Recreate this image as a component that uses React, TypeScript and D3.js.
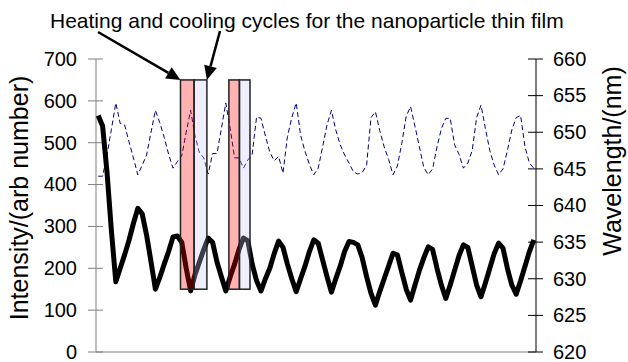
import React from 'react';
import * as d3 from 'd3';

// intensity (left axis), one reading per sample
const intensity = [
  565, 540, 430, 290, 168, 200, 232, 267, 307, 343,
  330, 279, 216, 150, 178, 210, 240, 275, 277, 262,
  200, 146, 185, 215, 245, 272, 262, 215, 180, 146,
  180, 210, 245, 272, 266, 210, 170, 146, 175, 200,
  235, 265, 250, 210, 175, 144, 175, 205, 240, 268,
  260, 220, 180, 143, 175, 205, 240, 264, 262, 256,
  225, 180, 140, 112, 145, 175, 205, 236, 232, 190,
  150, 124, 160, 195, 225, 251, 245, 200, 160, 128,
  160, 195, 230, 256, 250, 205, 160, 132, 165, 200,
  235, 260, 248, 200, 160, 138, 170, 205, 240, 268
];

// wavelength (right axis), same samples
const wavelength = [
  644.0, 644.0, 646.9, 650.4, 654.0, 651.2, 651.0, 648.7, 646.5, 644.2,
  645.5, 646.9, 650.0, 653.0, 651.3, 649.3, 647.0, 645.1, 646.0, 646.8,
  650.0, 653.0, 649.5, 647.2, 646.5, 644.3, 647.1, 647.1, 650.5, 654.0,
  650.5, 646.5, 646.5, 645.1, 646.2, 647.0, 652.1, 651.9, 649.5, 647.3,
  646.1, 646.7, 644.4, 649.4, 652.0, 654.0, 649.6, 647.4, 645.6, 644.2,
  645.1, 648.0, 651.0, 653.0, 650.3, 648.3, 646.9, 645.8, 644.6, 644.3,
  644.5, 645.5, 652.0, 652.8, 650.2, 648.0, 646.3, 644.2, 645.4, 648.5,
  652.2, 653.5, 650.8, 648.0, 645.2, 644.2, 645.0, 648.0, 650.5, 651.9,
  651.9, 648.3, 647.0, 645.1, 645.8, 647.5, 652.0, 653.7, 650.5, 647.5,
  645.5, 644.2, 645.0, 647.5, 650.3, 652.0, 652.3, 648.0, 645.8, 645.1
];

const leftTicks = [0, 100, 200, 300, 400, 500, 600, 700];
const rightTicks = [620, 625, 630, 635, 640, 645, 650, 655, 660];

// heating / cooling windows, in sample index, and intensity span
const heating = [[19.2, 22.3], [30.2, 32.6]];
const cooling = [[22.3, 25.2], [32.6, 35.0]];
const boxSpan = [150, 650];

const title = 'Heating and cooling cycles for the nanoparticle thin film';

const W = 628;
const H = 362;
const plot = { left: 96, right: 536, top: 59, bottom: 352 };
const font = 'Arial, "Liberation Sans", sans-serif';

function Arrow({ x1, y1, x2, y2 }: { x1: number; y1: number; x2: number; y2: number }) {
  const ang = Math.atan2(y2 - y1, x2 - x1);
  const len = 14;
  const half = 6.5;
  const bx = x2 - len * Math.cos(ang);
  const by = y2 - len * Math.sin(ang);
  const px = -Math.sin(ang) * half;
  const py = Math.cos(ang) * half;
  return (
    <g>
      <line x1={x1} y1={y1} x2={bx} y2={by} stroke="#000" strokeWidth={2.5} />
      <path d={`M${x2},${y2}L${bx + px},${by + py}L${bx - px},${by - py}Z`} fill="#000" />
    </g>
  );
}

export default function App() {
  const idx = d3.range(intensity.length);
  const x = d3.scaleLinear().domain([0, intensity.length]).range([plot.left, plot.right]);
  const xi = (i: number) => x(i + 0.5);
  const yL = d3.scaleLinear().domain([0, 700]).range([plot.bottom, plot.top]);
  const yR = d3.scaleLinear().domain([620, 660]).range([plot.bottom, plot.top]);

  const intLine = d3.line<number>().x(i => xi(i)).y(i => yL(intensity[i]))(idx) || '';
  const wlLine = d3.line<number>().x(i => xi(i)).y(i => yR(wavelength[i]))(idx) || '';

  const boxTop = yL(boxSpan[1]);
  const boxBot = yL(boxSpan[0]);

  return (
    <svg width={W} height={H} style={{ position: 'absolute', left: 0, top: 0, background: '#fff' }}
      fontFamily={font}>
      <rect width={W} height={H} fill="#fff" />

      {/* axes */}
      <line x1={plot.left} x2={plot.left} y1={plot.top} y2={plot.bottom} stroke="#808080" />
      <line x1={plot.left} x2={plot.right} y1={plot.bottom} y2={plot.bottom} stroke="#808080" />
      <line x1={plot.right} x2={plot.right} y1={plot.top} y2={plot.bottom} stroke="#000" />

      {leftTicks.map(t => (
        <g key={'l' + t}>
          <line x1={plot.left - 8} x2={plot.left + 7} y1={yL(t)} y2={yL(t)} stroke="#808080" />
          <text x={77} y={yL(t)} dy="0.34em" textAnchor="end" fontSize={20}>{t}</text>
        </g>
      ))}
      {rightTicks.map(t => (
        <g key={'r' + t}>
          <line x1={plot.right - 8} x2={plot.right + 7} y1={yR(t)} y2={yR(t)} stroke="#000" />
          <text x={553} y={yR(t)} dy="0.34em" textAnchor="start" fontSize={20}>{t}</text>
        </g>
      ))}

      <text transform="translate(28,198) rotate(-90)" textAnchor="middle" fontSize={25}>
        Intensity/(arb number)
      </text>
      <text transform="translate(621,161) rotate(-90)" textAnchor="middle" fontSize={25}>
        Wavelength/(nm)
      </text>

      {/* series */}
      <path d={wlLine} fill="none" stroke="#000080" strokeWidth={1} strokeDasharray="5,3" />
      <path d={intLine} fill="none" stroke="#000" strokeWidth={5} strokeLinejoin="round" />

      {/* heating / cooling boxes */}
      {heating.map((r, k) => (
        <rect key={'h' + k} x={xi(r[0] - 0.5)} width={xi(r[1] - 0.5) - xi(r[0] - 0.5)}
          y={boxTop} height={boxBot - boxTop}
          fill="rgb(255,0,0)" fillOpacity={0.3} stroke="#222" strokeWidth={1.5} />
      ))}
      {cooling.map((r, k) => (
        <rect key={'c' + k} x={xi(r[0] - 0.5)} width={xi(r[1] - 0.5) - xi(r[0] - 0.5)}
          y={boxTop} height={boxBot - boxTop}
          fill="rgb(200,200,255)" fillOpacity={0.3} stroke="#222" strokeWidth={1.5} />
      ))}

      {/* title + arrows */}
      <text x={50} y={28} fontSize={21}>{title}</text>
      <Arrow x1={98} y1={32} x2={xi(heating[0][0] - 0.5)} y2={boxTop} />
      <Arrow x1={220} y1={31} x2={xi(cooling[0][1] - 0.5)} y2={boxTop} />
    </svg>
  );
}
